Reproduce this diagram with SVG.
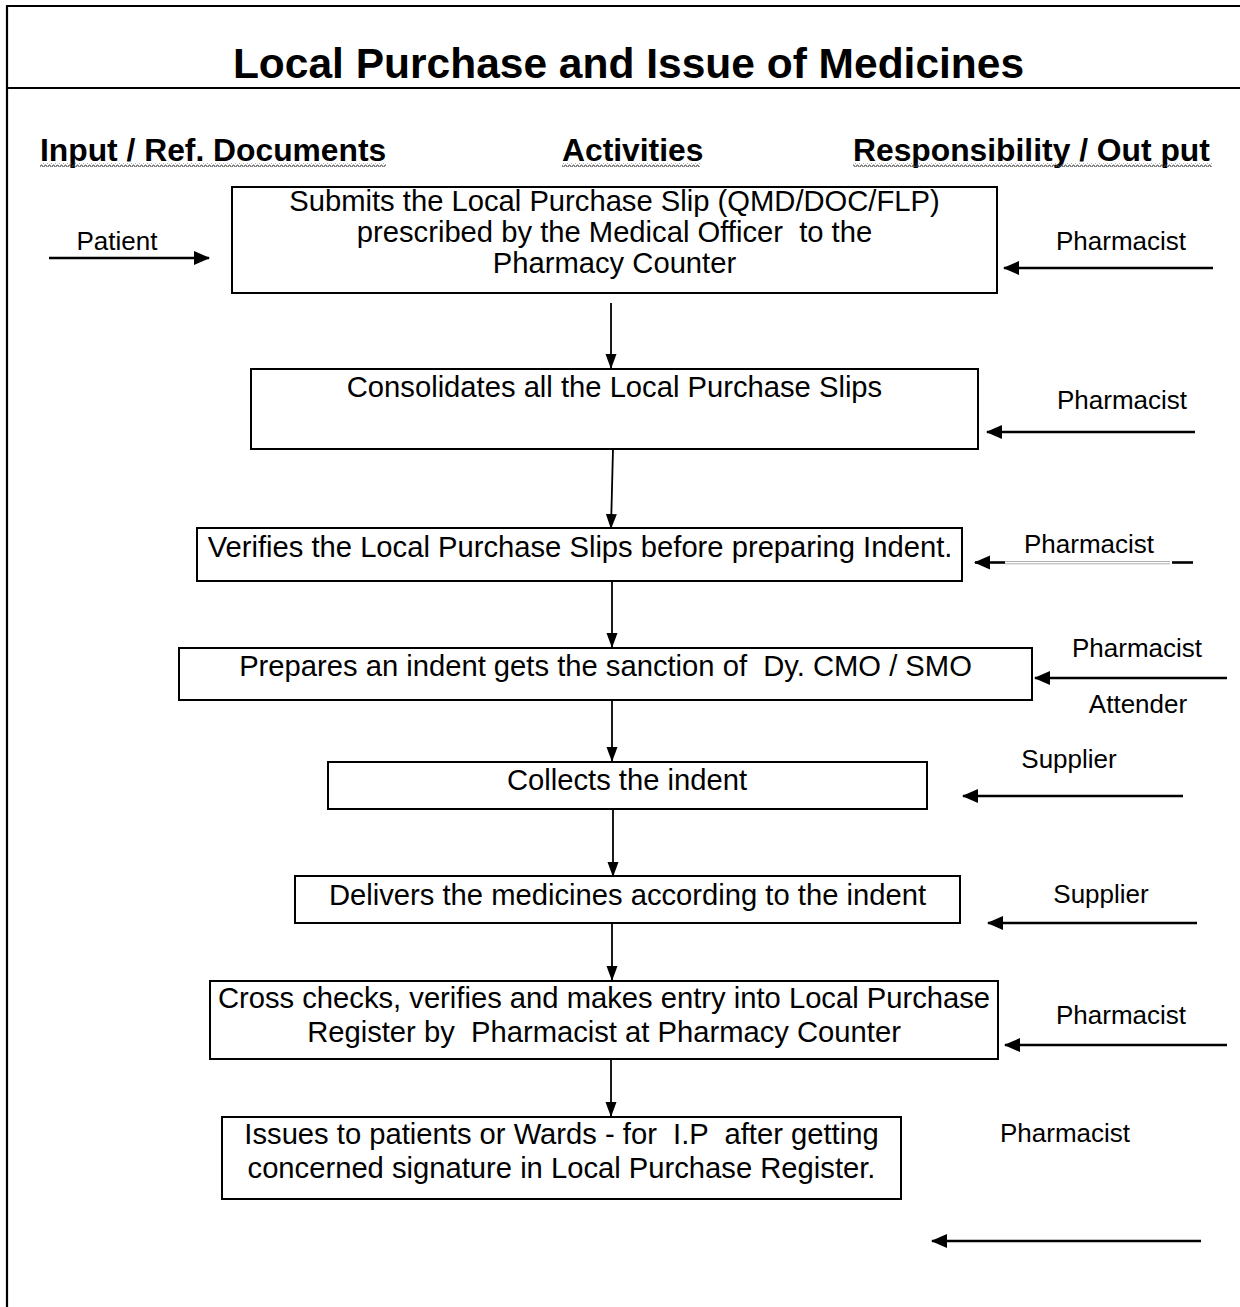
<svg xmlns="http://www.w3.org/2000/svg" width="1240" height="1307" viewBox="0 0 1240 1307">
<style>
.frame{stroke:#000;stroke-width:2.2;fill:none}
.box{fill:#fff;stroke:#000;stroke-width:2}
.title{font-family:"Liberation Sans",Arial,sans-serif;font-weight:bold;font-size:42.5px;fill:#000}
.hdr{font-family:"Liberation Sans",Arial,sans-serif;font-weight:bold;font-size:31.8px;fill:#000}
.body{font-family:"Liberation Sans",Arial,sans-serif;font-size:29.2px;fill:#000;text-anchor:middle}
.side{font-family:"Liberation Sans",Arial,sans-serif;font-size:26px;fill:#000;text-anchor:middle}
.v{stroke:#000;stroke-width:1.8;fill:none;marker-end:url(#av)}
.h{stroke:#000;stroke-width:2.6;fill:none;marker-end:url(#ah)}
.wave{fill:url(#wv)}
</style>
<defs>
<marker id="av" markerUnits="userSpaceOnUse" markerWidth="15" markerHeight="12" refX="14" refY="5.5" orient="auto" viewBox="0 0 15 11">
<path d="M0,0 L15,5.5 L0,11 Z" fill="#000"/>
</marker>
<marker id="ah" markerUnits="userSpaceOnUse" markerWidth="16" markerHeight="15" refX="15" refY="7" orient="auto" viewBox="0 0 16 14">
<path d="M0,0 L16,7 L0,14 Z" fill="#000"/>
</marker>
<pattern id="wv" width="4" height="4" patternUnits="userSpaceOnUse">
<polyline points="0,3 1,1 2,1 3,3 4,3" fill="none" stroke="#444" stroke-width="0.9"/>
</pattern>
</defs>

<g id="frame">
<line class="frame" x1="6" y1="6" x2="1240" y2="6"/>
<line class="frame" x1="7" y1="6" x2="7" y2="1307"/>
<line class="frame" x1="7" y1="88" x2="1240" y2="88"/>
<text class="title" x="628.5" y="78" text-anchor="middle">Local Purchase and Issue of Medicines</text>
</g>

<g id="headers">
<text class="hdr" x="40" y="161">Input / Ref. Documents</text>
<rect class="wave" x="40" y="163" width="346" height="4"/>
<text class="hdr" x="562" y="161">Activities</text>
<rect class="wave" x="562" y="163" width="138" height="4"/>
<text class="hdr" x="853" y="161">Responsibility / Out put</text>
<rect class="wave" x="853" y="163" width="359" height="4"/>
</g>

<g id="n1">
<rect class="box" x="232" y="187" width="765" height="106"/>
<text class="body" x="614.5" y="211">Submits the Local Purchase Slip (QMD/DOC/FLP)</text>
<text class="body" x="614.5" y="242" xml:space="preserve">prescribed by the Medical Officer  to the</text>
<text class="body" x="614.5" y="273">Pharmacy Counter</text>
</g>
<g id="n2">
<rect class="box" x="251" y="369" width="727" height="80"/>
<text class="body" x="614.5" y="397">Consolidates all the Local Purchase Slips</text>
</g>
<g id="n3">
<rect class="box" x="197" y="528" width="765" height="53"/>
<text class="body" x="580" y="557">Verifies the Local Purchase Slips before preparing Indent.</text>
</g>
<g id="n4">
<rect class="box" x="179" y="648" width="853" height="52"/>
<text class="body" x="605.5" y="676" xml:space="preserve">Prepares an indent gets the sanction of  Dy. CMO / SMO</text>
</g>
<g id="n5">
<rect class="box" x="328" y="762" width="599" height="47"/>
<text class="body" x="627" y="790">Collects the indent</text>
</g>
<g id="n6">
<rect class="box" x="295" y="876" width="665" height="47"/>
<text class="body" x="627.5" y="905">Delivers the medicines according to the indent</text>
</g>
<g id="n7">
<rect class="box" x="210" y="981" width="788" height="78"/>
<text class="body" x="604" y="1008">Cross checks, verifies and makes entry into Local Purchase</text>
<text class="body" x="604" y="1042" xml:space="preserve">Register by  Pharmacist at Pharmacy Counter</text>
</g>
<g id="n8">
<rect class="box" x="222" y="1117" width="679" height="82"/>
<text class="body" x="561.5" y="1144" xml:space="preserve">Issues to patients or Wards - for  I.P  after getting</text>
<text class="body" x="561.5" y="1178">concerned signature in Local Purchase Register.</text>
</g>

<g id="labels">
<text class="side" x="117" y="250">Patient</text>
<text class="side" x="1121" y="250">Pharmacist</text>
<text class="side" x="1122" y="409">Pharmacist</text>
<text class="side" x="1089" y="553">Pharmacist</text>
<text class="side" x="1137" y="657">Pharmacist</text>
<text class="side" x="1138" y="713">Attender</text>
<text class="side" x="1069" y="768">Supplier</text>
<text class="side" x="1101" y="903">Supplier</text>
<text class="side" x="1121" y="1024">Pharmacist</text>
<text class="side" x="1065" y="1142">Pharmacist</text>
</g>

<g id="connectors">
<line class="v" x1="611" y1="303" x2="611" y2="368"/>
<line class="v" x1="613" y1="449" x2="611" y2="528"/>
<line class="v" x1="612" y1="581" x2="612" y2="647"/>
<line class="v" x1="612" y1="700" x2="612" y2="761"/>
<line class="v" x1="613" y1="809" x2="613" y2="876"/>
<line class="v" x1="612" y1="923" x2="612" y2="980"/>
<line class="v" x1="611" y1="1059" x2="611" y2="1116"/>

<line class="h" x1="49" y1="258" x2="209" y2="258"/>
<line class="h" x1="1213" y1="268" x2="1004" y2="268"/>
<line class="h" x1="1195" y1="432" x2="987" y2="432"/>
<line class="h" x1="1005" y1="562.5" x2="975" y2="562.5"/>
<line stroke="#000" stroke-width="2.6" x1="1172" y1="562.5" x2="1193" y2="562.5"/>
<line stroke="#999" stroke-width="0.8" x1="1005" y1="561.5" x2="1170" y2="561.5"/>
<line stroke="#999" stroke-width="0.8" x1="1005" y1="563.8" x2="1170" y2="563.8"/>
<line class="h" x1="1227" y1="678" x2="1035" y2="678"/>
<line class="h" x1="1183" y1="796" x2="963" y2="796"/>
<line class="h" x1="1197" y1="923" x2="988" y2="923"/>
<line class="h" x1="1227" y1="1045" x2="1005" y2="1045"/>
<line class="h" x1="1201" y1="1241" x2="932" y2="1241"/>
</g>
</svg>
